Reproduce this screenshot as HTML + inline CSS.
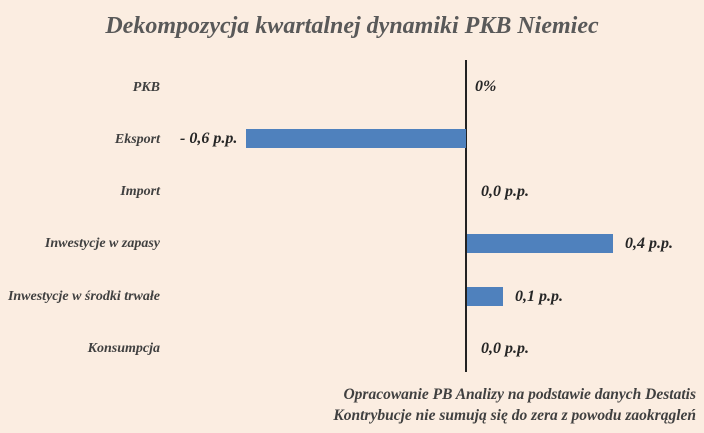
<!DOCTYPE html>
<html><head><style>
body{margin:0;width:704px;height:433px;background:#FBEDE1;position:relative;overflow:hidden;font-family:"Liberation Serif",serif;font-style:italic;font-weight:bold;color:#404040}
div{position:absolute;white-space:nowrap}
.c{right:544px;font-size:14px;text-align:right}
.v{font-size:16px;color:#262626}
.b{background:#4F81BD;height:19px}
</style></head><body>
<div style="left:0;width:704px;top:13px;text-align:center;font-size:24px;color:#595959">Dekompozycja kwartalnej dynamiki PKB Niemiec</div>
<div style="left:465px;top:60px;width:1.5px;height:312px;background:#222"></div>
<div class="c" style="top:80px">PKB</div>
<div class="c" style="top:132px">Eksport</div>
<div class="c" style="top:184px">Import</div>
<div class="c" style="top:236px">Inwestycje w zapasy</div>
<div class="c" style="top:289px">Inwestycje w środki trwałe</div>
<div class="c" style="top:341px">Konsumpcja</div>
<div class="b" style="left:246px;width:220px;top:129px"></div>
<div class="b" style="left:467px;width:146px;top:234px"></div>
<div class="b" style="left:467px;width:36px;top:287px"></div>
<div class="v" style="left:475px;top:78px">0%</div>
<div class="v" style="left:180px;top:130px">- 0,6 p.p.</div>
<div class="v" style="left:481px;top:183px">0,0 p.p.</div>
<div class="v" style="left:625px;top:235px">0,4 p.p.</div>
<div class="v" style="left:515px;top:288px">0,1 p.p.</div>
<div class="v" style="left:481px;top:340px">0,0 p.p.</div>
<div style="right:8px;top:384px;font-size:15.5px;text-align:right;line-height:21px;color:#404040">Opracowanie PB Analizy na podstawie danych Destatis<br>Kontrybucje nie sumują się do zera z powodu zaokrągleń</div>
</body></html>
